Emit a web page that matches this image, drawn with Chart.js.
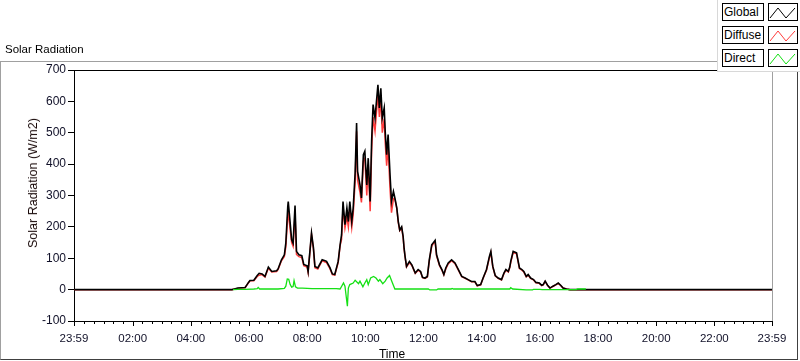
<!DOCTYPE html>
<html>
<head>
<meta charset="utf-8">
<script src="https://cdn.jsdelivr.net/npm/chart.js@4/dist/chart.umd.min.js"></script>
<style>
body{margin:0;background:#fff;font-family:'Liberation Sans',Arial,sans-serif;font-size:12px;color:#000;overflow:hidden}
#wrap{position:relative;width:800px;height:361px}
#frame{position:absolute;left:0;top:61px;width:796px;height:297px;border-top:1px solid #a0a0a0;border-left:1px solid #a0a0a0;border-right:1px solid #404040;border-bottom:1px solid #404040}
#chart{position:absolute;left:0;top:0}
#title{position:absolute;left:5px;top:43px;white-space:nowrap;font-size:11.5px}
#ytitle{position:absolute;left:33px;top:183px;transform:translate(-50%,-50%) rotate(-90deg);white-space:nowrap;font-size:12.5px;color:#1a0a0a}
#xtitle{position:absolute;left:392px;top:354px;transform:translate(-50%,-50%);font-size:12px}
#legend{position:absolute;left:717px;top:0;width:83px;height:72px;background:#fff;border-left:1px solid #d8d8d8;border-bottom:1px solid #d8d8d8;box-sizing:border-box}
.lg-text{position:absolute;left:4px;width:42px;height:18px;border:1px solid #000;box-sizing:border-box;line-height:16px;padding-left:1px;font-size:12px;white-space:nowrap}
.lg-swatch{position:absolute;left:50px;width:30px;height:18px;border:1px solid #000;box-sizing:border-box}
.lg-swatch svg{position:absolute;left:0;top:0}
</style>
</head>
<body>
<div id="wrap">
  <div id="frame"></div>
  <canvas id="chart" width="800" height="361"></canvas>
  <div id="title">Solar Radiation</div>
  <div id="ytitle">Solar Radiation (W/m2)</div>
  <div id="xtitle">Time</div>
  <div id="legend"></div>
</div>
<script>
/* ── Data (W/m2), times are HH:MM of the day ── */
var dayTimes = ['00:00','05:25','05:30','05:37','05:52','05:56','05:59','06:02','06:10','06:17','06:21','06:27','06:33','06:40','06:47','06:57',
  '07:00','07:07','07:13','07:16','07:20','07:21','07:25','07:28','07:31','07:35','07:38','07:43','07:49','07:53',
  '08:00','08:02','08:09','08:13','08:16','08:22','08:31','08:37','08:40','08:47','08:52','08:57',
  '09:04','09:08','09:11','09:14','09:18','09:22','09:25','09:28','09:32','09:35','09:39','09:42','09:44','09:49','09:52','09:56','09:59',
  '10:03','10:06','10:10','10:13','10:16','10:20','10:23','10:26','10:29','10:32','10:35','10:39','10:41','10:44','10:47','10:51','10:54','10:58',
  '11:01','11:05','11:08','11:11','11:15','11:18','11:20','11:22','11:25','11:31','11:36','11:43','11:49','11:54','11:58',
  '12:03','12:08','12:12','12:17','12:20','12:24','12:27','12:33','12:38','12:42','12:46','12:51','12:58',
  '13:05','13:12','13:19','13:26','13:32','13:39','13:46','13:51','13:58',
  '14:03','14:10','14:16','14:19','14:23','14:28','14:34','14:41','14:46','14:50','14:55','14:58',
  '15:00','15:05','15:12','15:18','15:23','15:27','15:32','15:36','15:41','15:47','15:52','15:59',
  '16:04','16:07','16:11','16:16','16:21','16:27','16:33','16:38','16:43','16:48','16:55','17:02','23:59'];
var globalValues = [0,0,2,5,7,16,23,29,30,45,52,50,42,72,58,60,
  66,95,111,148,265,281,212,159,148,268,122,111,108,80,
  76,58,180,133,74,69,95,92,90,70,50,48,
  90,143,175,281,207,260,217,281,217,260,372,531,377,334,292,430,441,
  334,419,281,473,590,547,600,653,579,642,547,579,505,430,494,366,281,313,
  292,260,217,190,200,170,132,106,74,90,79,53,64,58,39,
  37,42,95,143,149,157,111,79,64,48,69,85,95,
  85,64,42,37,32,26,26,13,16,
  37,64,106,122,74,45,37,32,53,64,58,72,
  90,122,117,69,64,58,42,48,37,32,23,21,
  14,16,27,14,5,11,16,21,14,5,2,0,0];
var diffuseValues = [0,0,2,4,6,15,22,28,28,42,46,48,40,68,56,58,
  64,92,106,136,235,248,190,150,138,240,112,105,102,76,
  72,55,176,128,70,66,92,88,86,67,48,46,
  86,140,160,262,196,232,200,262,198,240,345,505,350,310,278,410,418,
  300,400,250,440,550,505,565,625,550,610,500,545,470,395,455,320,245,290,
  288,258,214,188,196,166,130,104,72,86,77,52,62,56,38,
  36,40,92,138,146,152,108,77,62,47,66,82,92,
  83,62,41,36,31,25,25,12,15,
  36,62,102,118,72,44,36,31,51,62,56,70,
  86,118,114,67,62,56,41,46,36,31,22,20,
  13,15,26,13,5,10,15,20,13,5,2,0,0];
var directTimes = ['05:27','05:37','05:52','06:10','06:17','06:19','06:22','06:40','07:00','07:13','07:16','07:19','07:22','07:25','07:28','07:31','07:33','07:36','07:40','07:50',
  '08:00','08:10','08:30','09:00','09:08','09:15','09:18','09:23','09:25','09:28','09:35','09:39','09:46','09:49','09:55','09:59',
  '10:03','10:06','10:11','10:17','10:22','10:27','10:30','10:36','10:41','10:45','10:50','10:52','10:56',
  '11:01','12:10','12:13','12:27','12:30','12:57','12:59','13:02','14:58','15:00','15:04','15:32','15:45','15:47','16:00','16:05','17:15','17:18','17:35'];
var directValues = [0,1,1,2,3,7,2,2,2,4,11,34,33,16,8,10,29,9,5,5,
  4,3,3,3,2,21,11,-53,5,16,21,30,19,27,9,21,
  32,16,37,42,37,27,32,19,27,37,45,37,21,
  2,2,-1,-1,2,2,4,2,2,6,2,-1,-1,1,1,0,0,2,2];
var xTickMinutes = [-1,120,240,360,480,600,720,840,960,1080,1200,1320,1439];
var xTickLabels = ['23:59','02:00','04:00','06:00','08:00','10:00','12:00','14:00','16:00','18:00','20:00','22:00','23:59'];
var seriesNames = ['Global','Diffuse','Direct'];
var seriesColors = ['#000000','#ff3c3c','#14e014'];

function toMin(s){
  var p = s.split(':');
  return (+p[0])*60 + (+p[1]);
}
function pts(times, vals){
  return times.map(function(t, i){ return {x: toMin(t), y: vals[i]}; });
}

/* ── Legend: label box + zigzag swatch, as in the original ── */
var legend = document.getElementById('legend');
seriesNames.forEach(function(n, i){
  var top = 3 + i*23;
  var t = document.createElement('div');
  t.className = 'lg-text'; t.style.top = top+'px'; t.textContent = n;
  var s = document.createElement('div');
  s.className = 'lg-swatch'; s.style.top = top+'px';
  s.innerHTML = '<svg width="28" height="16"><polyline points="1,14 9,4 17,14 26,4" fill="none" stroke="'+seriesColors[i]+'" stroke-width="1"/></svg>';
  legend.appendChild(t); legend.appendChild(s);
});

/* ── Tick marks + plot border (major ticks long, 20-min minor ticks short) ── */
var framePlugin = {
  id: 'framePlugin',
  afterDraw: function(chart){
    var ctx = chart.ctx, a = chart.chartArea, xs = chart.scales.x;
    ctx.save();
    ctx.lineWidth = 1;
    ctx.strokeStyle = '#000';
    ctx.beginPath();
    ctx.moveTo(a.left, Math.round(a.top)+0.5); ctx.lineTo(a.right, Math.round(a.top)+0.5);
    for(var m = 20; m <= 1420; m += 20){
      var major = xTickMinutes.indexOf(m) >= 0;
      var px = Math.round(xs.getPixelForValue(m))+0.5;
      ctx.moveTo(px, a.bottom); ctx.lineTo(px, a.bottom + (major ? 5 : 3));
    }
    [xTickMinutes[0], xTickMinutes[xTickMinutes.length-1]].forEach(function(m){
      var px = Math.round(xs.getPixelForValue(m))+0.5;
      ctx.moveTo(px, a.bottom); ctx.lineTo(px, a.bottom + 5);
    });
    ctx.stroke();
    ctx.strokeStyle = '#a0a0a0';
    ctx.beginPath();
    ctx.moveTo(Math.round(a.right)+0.5, a.top); ctx.lineTo(Math.round(a.right)+0.5, a.bottom);
    ctx.stroke();
    ctx.restore();
  }
};

new Chart(document.getElementById('chart'), {
  type: 'line',
  data: {
    datasets: [
      {label: seriesNames[2], data: pts(directTimes, directValues), borderColor: seriesColors[2], borderWidth: 1.3, order: 0},
      {label: seriesNames[0], data: pts(dayTimes, globalValues), borderColor: seriesColors[0], borderWidth: 1.6, order: 1},
      {label: seriesNames[1], data: pts(dayTimes, diffuseValues), borderColor: seriesColors[1], borderWidth: 1.5, order: 2}
    ]
  },
  options: {
    responsive: false,
    animation: false,
    devicePixelRatio: 1,
    layout: { padding: {left: 0, top: 70, right: 28, bottom: 0} },
    elements: { line: {tension: 0}, point: {radius: 0} },
    plugins: { legend: {display: false}, tooltip: {enabled: false} },
    scales: {
      x: {
        type: 'linear', min: -1, max: 1439,
        afterFit: function(s){ s.height = 40; },
        afterBuildTicks: function(s){ s.ticks = xTickMinutes.map(function(v){ return {value: v}; }); },
        ticks: {
          autoSkip: false, maxRotation: 0, padding: 3, color: '#101028',
          font: {family: "'Liberation Sans', Arial, sans-serif", size: 11.5},
          callback: function(v){ var i = xTickMinutes.indexOf(v); return i >= 0 ? xTickLabels[i] : ''; }
        },
        grid: { drawOnChartArea: false, drawTicks: true, tickLength: 8, tickColor: 'rgba(0,0,0,0)' },
        border: { color: '#000', width: 1 }
      },
      y: {
        min: -100, max: 700,
        afterFit: function(s){ s.width = 74; },
        ticks: {
          stepSize: 100, padding: 2, color: '#101028',
          font: {family: "'Liberation Sans', Arial, sans-serif", size: 12}
        },
        grid: { drawOnChartArea: false, drawTicks: true, tickLength: 6, tickColor: '#000' },
        border: { color: '#000', width: 1 }
      }
    }
  },
  plugins: [framePlugin]
});
</script>
</body>
</html>
